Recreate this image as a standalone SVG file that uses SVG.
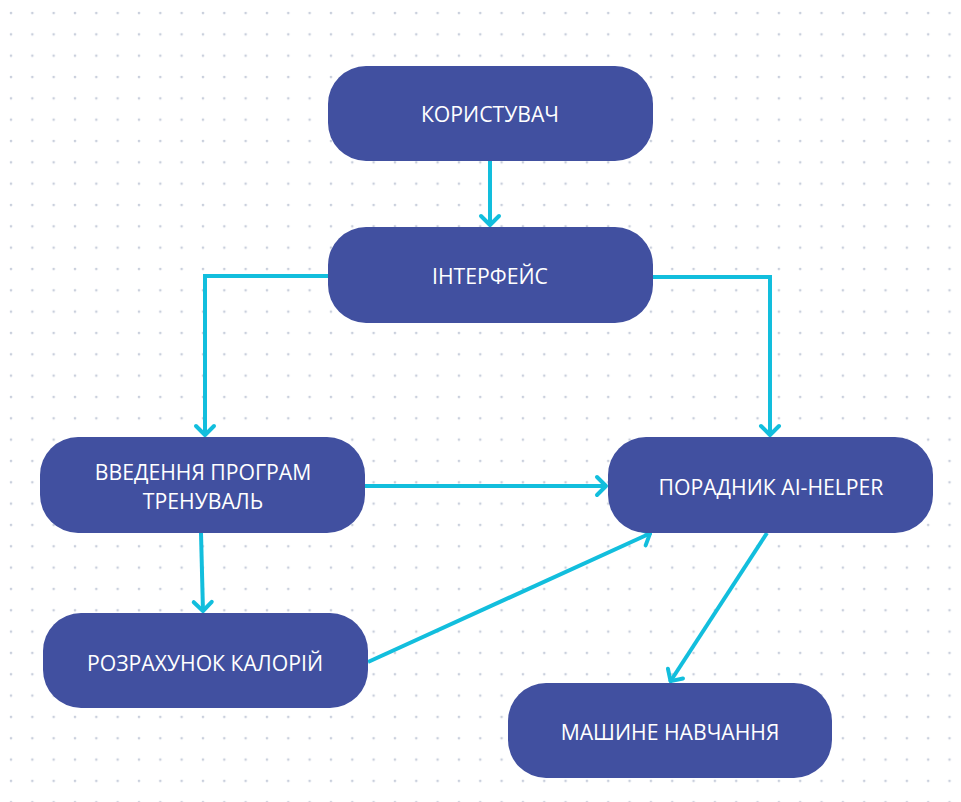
<svg xmlns="http://www.w3.org/2000/svg" width="961" height="802" viewBox="0 0 961 802">
<style>
.node{fill:#4150a0;}
.lbl{fill:#ffffff;font-family:"Open Sans","Noto Sans","DejaVu Sans",sans-serif;font-size:21.2px;text-anchor:middle;dominant-baseline:central;}
.conn{fill:none;stroke:#12bedd;stroke-width:4;stroke-linejoin:miter;marker-end:url(#arr);}
</style>
<defs>
<pattern id="dots" x="0.3" y="2.3" width="21.33" height="21.33" patternUnits="userSpaceOnUse">
<circle cx="10.7" cy="10.7" r="1.3" fill="#c9cfdc"/>
</pattern>
<marker id="arr" markerUnits="userSpaceOnUse" viewBox="-14 -14 20 28" refX="0" refY="0" markerWidth="20" markerHeight="28" orient="auto" overflow="visible">
<path d="M-10,-9 L-1,0 L-10,9" fill="none" stroke="#12bedd" stroke-width="4" stroke-linecap="round" stroke-linejoin="round"/>
</marker>
</defs>
<rect width="961" height="802" fill="#ffffff"/>
<rect width="961" height="802" fill="url(#dots)"/>
<g id="connectors">
<path class="conn" d="M490,161 L490,226"/>
<path class="conn" d="M328,276 L205,276 L205,436"/>
<path class="conn" d="M653,277 L770,277 L770,436"/>
<path class="conn" d="M365,486 L607,486"/>
<path class="conn" d="M201,533 L203,612"/>
<path class="conn" d="M368,662 L651,533"/>
<path class="conn" d="M767,533 L670,682"/>
</g>
<g id="n-korystuvach">
<rect class="node" x="328" y="66" width="325" height="95" rx="38"/>
<text class="lbl" x="490" y="113">КОРИСТУВАЧ</text>
</g>
<g id="n-interfeis">
<rect class="node" x="328" y="227" width="325" height="96" rx="38"/>
<text class="lbl" x="490" y="275">ІНТЕРФЕЙС</text>
</g>
<g id="n-vvedennia">
<rect class="node" x="40" y="437" width="325" height="96" rx="38"/>
<text class="lbl" x="203" y="471">ВВЕДЕННЯ ПРОГРАМ</text>
<text class="lbl" x="203" y="500">ТРЕНУВАЛЬ</text>
</g>
<g id="n-rozrakhunok">
<rect class="node" x="43" y="613" width="325" height="95" rx="38"/>
<text class="lbl" x="205" y="662">РОЗРАХУНОК КАЛОРІЙ</text>
</g>
<g id="n-poradnyk">
<rect class="node" x="608" y="437" width="325" height="96" rx="38"/>
<text class="lbl" x="771" y="486">ПОРАДНИК AI-HELPER</text>
</g>
<g id="n-mashyne">
<rect class="node" x="508" y="683" width="324" height="95" rx="38"/>
<text class="lbl" x="670" y="731">МАШИНЕ НАВЧАННЯ</text>
</g>
</svg>
